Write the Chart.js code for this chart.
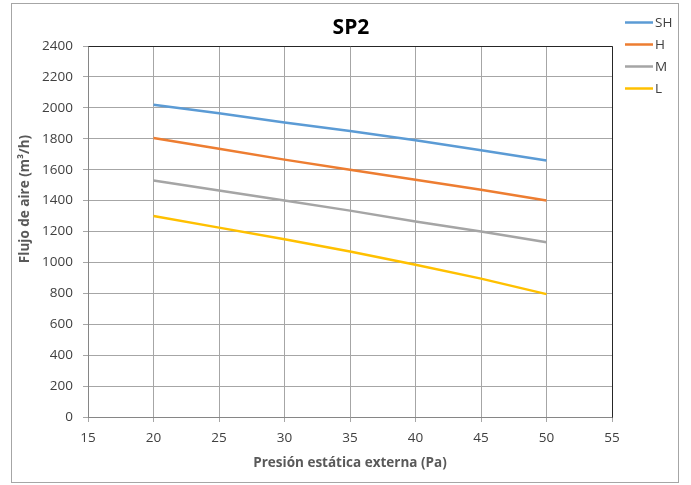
<!DOCTYPE html>
<html>
<head>
<meta charset="utf-8">
<script src="https://cdn.jsdelivr.net/npm/chart.js@4.4.1/dist/chart.umd.min.js"></script>
<style>
  body { margin: 0; background: #fff; }
  canvas { display: block; }
</style>
</head>
<body>
<canvas id="chart" width="691" height="485"></canvas>
<script>
// data
const pressure = [20, 25, 30, 35, 40, 45, 50];
const shFlow = [2020, 1965, 1905, 1850, 1790, 1725, 1660];
const hFlow = [1805, 1735, 1665, 1600, 1535, 1470, 1400];
const mFlow = [1530, 1465, 1400, 1335, 1265, 1200, 1130];
const lFlow = [1300, 1225, 1150, 1070, 985, 895, 795];
const seriesNames = ["SH", "H", "M", "L"];
const seriesColors = ["#5b9bd5", "#ed7d31", "#a5a5a5", "#ffc000"];

const FONT = "'Open Sans', 'Noto Sans', sans-serif";
const toPoints = (ys) => pressure.map((x, i) => ({ x: x, y: ys[i] }));

// title, axis titles, legend and frames drawn by hand
const extras = {
  id: "extras",
  afterDraw(chart) {
    const ctx = chart.ctx;
    const a = chart.chartArea;
    ctx.save();

    // outer frame
    ctx.strokeStyle = "#a6a6a6";
    ctx.lineWidth = 1;
    ctx.strokeRect(11.5, 3.5, 667, 479);

    // dark top and right edge of the plot
    ctx.strokeStyle = "#262626";
    ctx.beginPath();
    ctx.moveTo(Math.round(a.left) + 0.5, Math.round(a.top) + 0.5);
    ctx.lineTo(Math.round(a.right) + 0.5, Math.round(a.top) + 0.5);
    ctx.lineTo(Math.round(a.right) + 0.5, Math.round(a.bottom) + 0.5);
    ctx.stroke();

    // chart title
    ctx.fillStyle = "#000";
    ctx.font = "bold 21px " + FONT;
    ctx.textAlign = "center";
    ctx.textBaseline = "middle";
    ctx.fillText("SP2", 351, 28);

    // axis titles
    ctx.fillStyle = "#595959";
    ctx.font = "bold 13.5px " + FONT;
    ctx.fillText("Presión estática externa (Pa)", 350, 463);
    ctx.save();
    ctx.translate(25, 199);
    ctx.rotate(-Math.PI / 2);
    ctx.fillText("Flujo de aire (m³/h)", 0, 0);
    ctx.restore();

    // legend
    ctx.font = "13.5px " + FONT;
    ctx.textAlign = "left";
    ctx.lineWidth = 2.5;
    chart.data.datasets.forEach((ds, i) => {
      const y = 22.5 + i * 22;
      ctx.strokeStyle = ds.borderColor;
      ctx.beginPath();
      ctx.moveTo(625, y);
      ctx.lineTo(653, y);
      ctx.stroke();
      ctx.fillStyle = "#404040";
      ctx.fillText(ds.label, 655, y + 1);
    });

    ctx.restore();
  }
};

new Chart(document.getElementById("chart"), {
  type: "line",
  data: {
    datasets: seriesNames.map((name, i) => ({
      label: name,
      data: toPoints([shFlow, hFlow, mFlow, lFlow][i]),
      borderColor: seriesColors[i],
      backgroundColor: seriesColors[i],
      borderWidth: 2.5,
      pointRadius: 0,
      tension: 0,
    })),
  },
  options: {
    responsive: false,
    animation: false,
    layout: { padding: { top: 46, right: 79, left: 0, bottom: 0 } },
    plugins: {
      legend: { display: false },
      title: { display: false },
      tooltip: { enabled: false },
    },
    scales: {
      x: {
        type: "linear",
        min: 15,
        max: 55,
        afterFit: (scale) => { scale.height = 68; },
        ticks: { stepSize: 5, padding: 8, color: "#404040", font: { family: FONT, size: 13.5 }, callback: (v) => String(v) },
        grid: { color: "#a6a6a6", tickLength: 5 },
        border: { color: "#868686" },
      },
      y: {
        min: 0,
        max: 2400,
        afterFit: (scale) => { scale.width = 88; },
        ticks: { stepSize: 200, padding: 10, color: "#404040", font: { family: FONT, size: 13.5 }, callback: (v) => String(v) },
        grid: { color: "#a6a6a6", tickLength: 5 },
        border: { color: "#868686" },
      },
    },
  },
  plugins: [extras],
});
</script>
</body>
</html>
